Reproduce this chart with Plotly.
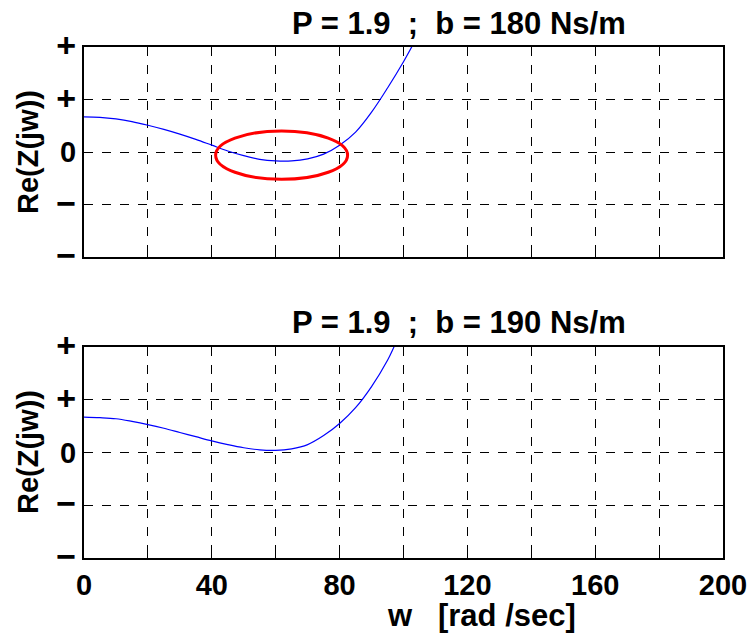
import plotly.graph_objects as go
from plotly.subplots import make_subplots

w_top = [0, 5, 10, 15, 20, 25, 30, 35, 40, 45, 50, 55, 60, 65, 70, 75, 80, 85, 90, 95, 100, 103, 106]
re_top = [0.67, 0.66, 0.63, 0.58, 0.51, 0.43, 0.34, 0.24, 0.13, 0.02, -0.07, -0.14, -0.17, -0.17, -0.13, -0.04, 0.13, 0.38, 0.76, 1.22, 1.72, 2.05, 2.4]

w_bot = [0, 5, 10, 15, 20, 25, 30, 35, 40, 45, 50, 55, 60, 65, 70, 75, 80, 85, 90, 95, 97, 100]
re_bot = [0.67, 0.66, 0.64, 0.59, 0.53, 0.46, 0.38, 0.30, 0.22, 0.15, 0.09, 0.05, 0.04, 0.07, 0.15, 0.32, 0.55, 0.85, 1.25, 1.75, 2.0, 2.4]

y_tickvals = [2, 1, 0, -1, -2]
y_ticktext = ['<span style="font-size:34px">+</span>', '<span style="font-size:34px">+</span>', "0",
              '<span style="font-size:34px">\u2212</span>', '<span style="font-size:34px">\u2212</span>']
x_tickvals = [0, 40, 80, 120, 160, 200]
x_gridvals = list(range(0, 201, 20))

titles = ["P = 1.9\u00a0\u00a0;\u00a0\u00a0b = 180 Ns/m", "P = 1.9\u00a0\u00a0;\u00a0\u00a0b = 190 Ns/m"]
ylabel = "Re(Z(jw))"
xlabel = "w\u00a0\u00a0\u00a0[rad /sec]"

W, H = 750, 641
L, R, T, B = 84, 27, 47, 83
pw, ph = W - L - R, H - T - B

def px(x):
    return (x - L) / pw

def py(y):
    return (H - B - y) / ph

fig = make_subplots(rows=2, cols=1, vertical_spacing=0.0)
fig.add_trace(go.Scatter(x=w_top, y=re_top, mode="lines", line=dict(color="#0000ff", width=1.2, shape="spline"),
                         showlegend=False), row=1, col=1)
fig.add_trace(go.Scatter(x=w_bot, y=re_bot, mode="lines", line=dict(color="#0000ff", width=1.2, shape="spline"),
                         showlegend=False), row=2, col=1)

fam = "Liberation Sans, Arial, sans-serif"
font = dict(family=fam, size=29, color="black", weight="bold")
title_font = dict(family=fam, size=31, color="black", weight="bold")

axis_common = dict(showline=True, linecolor="black", linewidth=2, mirror="ticks",
                   showgrid=True, gridcolor="black", griddash="dash", gridwidth=1,
                   ticks="inside", ticklen=5, tickcolor="black", tickwidth=1,
                   zeroline=False, tickfont=font)

fig.update_xaxes(range=[0, 200], tickvals=x_gridvals, **axis_common)
fig.update_xaxes(showticklabels=False, row=1, col=1)
fig.update_xaxes(tickmode="array", tickvals=x_gridvals,
                 ticktext=[str(v) if v in x_tickvals else "" for v in x_gridvals], row=2, col=1)
fig.update_yaxes(range=[-2, 2], tickvals=y_tickvals, ticktext=y_ticktext, **axis_common)

fig.layout.yaxis.domain = [py(257), 1.0]
fig.layout.yaxis2.domain = [0.0, py(347)]

fig.add_shape(type="circle", xref="x", yref="y", x0=41.2, x1=82.5, y0=-0.52, y1=0.40,
              line=dict(color="#ff0000", width=3))

anns = [
    dict(text=titles[0], x=px(459), y=py(24), font=title_font),
    dict(text=titles[1], x=px(459), y=py(322), font=title_font),
    dict(text=ylabel, x=px(28), y=py(152), textangle=-90, font=font),
    dict(text=ylabel, x=px(28), y=py(452), textangle=-90, font=font),
    dict(text=xlabel, x=px(481), y=py(615), font=title_font),
]
for a in anns:
    fig.add_annotation(xref="paper", yref="paper", showarrow=False, xanchor="center", yanchor="middle", **a)

fig.update_layout(width=W, height=H, margin=dict(l=L, r=R, t=T, b=B, autoexpand=False),
                  paper_bgcolor="white", plot_bgcolor="white", font=font)

fig.write_html("out.html")
